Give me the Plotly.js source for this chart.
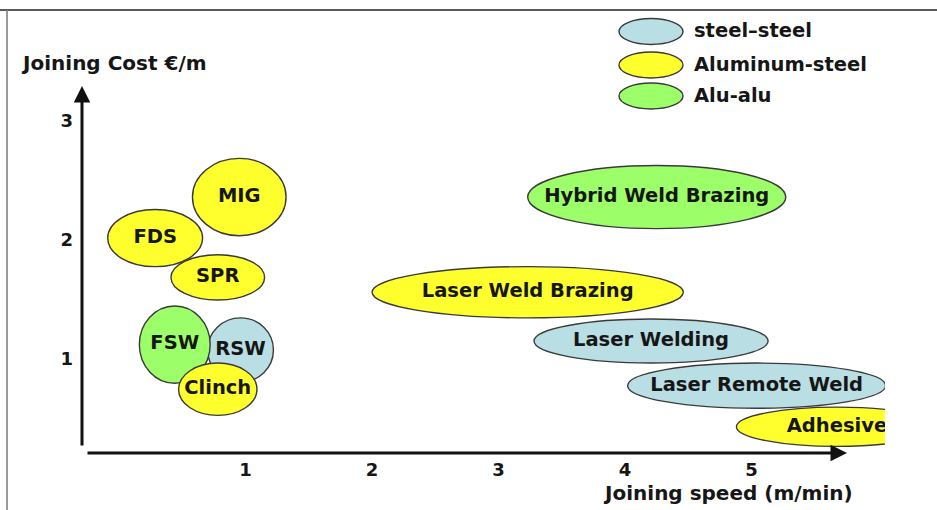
<!DOCTYPE html>
<html>
<head>
<meta charset="utf-8">
<script src="https://cdn.plot.ly/plotly-3.0.1.min.js"></script>
<style>
  html, body { margin: 0; padding: 0; background: #ffffff; }
  #chart { width: 937px; height: 510px; }
</style>
</head>
<body>
<div id="chart"></div>
<script>
// Joining processes: speed range (m/min) and cost range (€/m)
const joints   = ['MIG', 'FDS', 'SPR', 'RSW', 'FSW', 'Clinch',
                  'Hybrid Weld Brazing', 'Laser Weld Brazing', 'Laser Welding',
                  'Laser Remote Weld', 'Adhesive'];
const material = ['Aluminum-steel', 'Aluminum-steel', 'Aluminum-steel', 'steel–steel', 'Alu-alu', 'Aluminum-steel',
                  'Alu-alu', 'Aluminum-steel', 'steel–steel', 'steel–steel', 'Aluminum-steel'];
const speedLo  = [0.58, -0.09, 0.41, 0.70, 0.16, 0.47, 3.23, 2.00, 3.28, 4.02, 4.88];
const speedHi  = [1.32,  0.66, 1.15, 1.22, 0.72, 1.09, 5.27, 4.46, 5.13, 6.06, 6.47];
const costLo   = [2.03,  1.77, 1.49, 0.80, 0.79, 0.52, 2.09, 1.34, 0.96, 0.58, 0.26];
const costHi   = [2.68,  2.25, 1.87, 1.34, 1.44, 0.96, 2.62, 1.77, 1.33, 0.96, 0.59];

// Material combinations shown in the key
const groups      = ['steel–steel', 'Aluminum-steel', 'Alu-alu'];
const groupColors = ['#b9dfe4', '#ffff2e', '#9cff6a'];

const speedTicks = [1, 2, 3, 4, 5];
const costTicks  = [1, 2, 3];

const FONT = 'DejaVu Sans, Arial, sans-serif';
const INK = '#161616';
const W = 937, H = 510;
const M = { l: 82, r: 52, t: 20, b: 57 };
const pw = W - M.l - M.r, ph = H - M.t - M.b;
const px = x => (x - M.l) / pw;          // page pixel -> paper x
const py = y => (H - M.b - y) / ph;      // page pixel -> paper y

const colorOf = m => groupColors[groups.indexOf(m)];

const shapes = [];
// process ellipses
joints.forEach((name, i) => {
  shapes.push({
    type: 'circle', xref: 'x', yref: 'y', layer: 'below',
    x0: speedLo[i], x1: speedHi[i], y0: costLo[i], y1: costHi[i],
    fillcolor: colorOf(material[i]),
    line: { color: '#3a3a3a', width: 1.4 }
  });
});

// frame lines
shapes.push({ type: 'line', xref: 'paper', yref: 'paper',
  x0: px(0), x1: px(W), y0: py(10), y1: py(10), line: { color: '#222', width: 1.4 } });
shapes.push({ type: 'line', xref: 'paper', yref: 'paper',
  x0: px(7), x1: px(7), y0: py(10), y1: py(H), line: { color: '#808080', width: 1.6 } });

const annotations = [];
// key
const keyRows = [31.5, 65, 96];
groups.forEach((g, k) => {
  shapes.push({
    type: 'circle', xref: 'paper', yref: 'paper',
    x0: px(619), x1: px(683), y0: py(keyRows[k] + 13), y1: py(keyRows[k] - 13),
    fillcolor: groupColors[k], line: { color: '#3a3a3a', width: 1.4 }
  });
  annotations.push({
    xref: 'paper', yref: 'paper', x: px(692), y: py(keyRows[k] - 1),
    xanchor: 'left', yanchor: 'middle', showarrow: false, text: g,
    font: { family: FONT, size: 19.5, color: INK, weight: 'bold' }
  });
});

// axis arrows
annotations.push({
  xref: 'paper', yref: 'paper', x: px(82), y: py(86), axref: 'pixel', ayref: 'pixel',
  ax: 0, ay: 447 - 86, text: '', showarrow: true, arrowhead: 2, arrowsize: 1.1,
  arrowwidth: 3, arrowcolor: '#111', standoff: 0
});
annotations.push({
  xref: 'paper', yref: 'paper', x: px(847), y: py(453), axref: 'pixel', ayref: 'pixel',
  ax: -(847 - 86), ay: 0, text: '', showarrow: true, arrowhead: 2, arrowsize: 1.1,
  arrowwidth: 3, arrowcolor: '#111', standoff: 0
});

// axis titles
annotations.push({
  xref: 'paper', yref: 'paper', x: px(19), y: py(63), xanchor: 'left', yanchor: 'middle',
  showarrow: false, text: 'Joining Cost €/m',
  font: { family: FONT, size: 20, color: INK, weight: 'bold' }
});
annotations.push({
  xref: 'paper', yref: 'paper', x: px(728), y: py(493), xanchor: 'center', yanchor: 'middle',
  showarrow: false, text: 'Joining speed (m/min)',
  font: { family: FONT, size: 20, color: INK, weight: 'bold' }
});

// process names, clipped to the plotting area
const labels = {
  type: 'scatter', mode: 'text', hoverinfo: 'skip', showlegend: false, cliponaxis: true,
  x: joints.map((_, i) => (speedLo[i] + speedHi[i]) / 2),
  y: joints.map((_, i) => (costLo[i] + costHi[i]) / 2),
  text: joints, textposition: 'middle center',
  textfont: { family: FONT, size: 19.5, color: INK, weight: 'bold' }
};

const axisFont = { family: FONT, size: 18, color: INK, weight: 'bold' };
const layout = {
  width: W, height: H,
  margin: M,
  paper_bgcolor: '#ffffff', plot_bgcolor: '#ffffff',
  showlegend: false,
  xaxis: {
    range: [-0.2933, 6.0545], tickvals: speedTicks, ticktext: speedTicks.map(String),
    ticks: '', showgrid: false, zeroline: false, showline: false,
    tickfont: axisFont, ticklabelstandoff: 4, fixedrange: true
  },
  yaxis: {
    range: [0.2042, 3.8429], tickvals: costTicks, ticktext: costTicks.map(String),
    ticks: '', showgrid: false, zeroline: false, showline: false,
    tickfont: axisFont, ticklabelstandoff: 8, fixedrange: true
  },
  shapes: shapes,
  annotations: annotations
};

Plotly.newPlot('chart', [labels], layout, { displayModeBar: false, staticPlot: true });
</script>
</body>
</html>
